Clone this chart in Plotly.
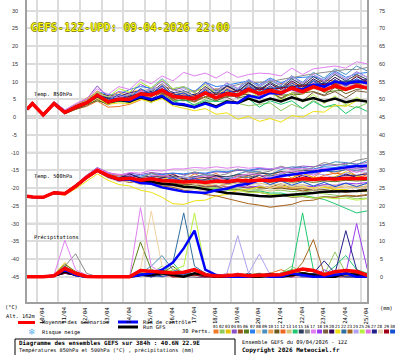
import plotly.graph_objects as go

# ---------------- data ----------------
lead_hours = [0] + list(range(6, 384, 12))          # GEFS lead times shown (h)
start_day = -0.45                                    # run start, in days after 10/04 00h
date_labels = ["10/04", "11/04", "12/04", "13/04", "14/04", "15/04", "16/04", "17/04",
               "18/04", "19/04", "20/04", "21/04", "22/04", "23/04", "24/04", "25/04"]
left_ticks = [30, 25, 20, 15, 10, 5, 0, -5, -10, -15, -20, -25, -30, -35, -40, -45]
right_ticks = [75, 70, 65, 60, 55, 50, 45, 40, 35, 30, 25, 20, 15, 10, 5, 0]
member_names = ["%02d" % i for i in range(1, 31)]
member_colors = ["#f07828", "#90c860", "#e8c000", "#8a4fc8", "#a0521c", "#5a7d1a", "#2a80f0",
                 "#f2d2a0", "#4a90c0", "#f0a050", "#6b5a1e", "#f06420", "#d4c47c", "#20c870",
                 "#2c3e5c", "#8a8a8a", "#e080f0", "#9a3cf0", "#7a5c3c", "#32005a", "#f0e010",
                 "#2e6ea0", "#a8641c", "#b0a0f0", "#b8f040", "#e070e0", "#22208a", "#e6d6b4",
                 "#a00018", "#1450d0"]

t850_mean = [2.2,3.8,0.6,3.8,1.3,2.8,4.0,6.2,4.3,5.0,5.0,6.6,6.2,7.6,5.8,5.6,5.2,6.8,5.4,6.6,6.2,7.8,6.6,7.5,6.8,8.2,7.2,8.6,7.6,8.8,7.8,8.8,8.2]
t850_ctrl = [2.2,3.8,0.6,3.8,1.3,2.8,4.0,6.0,4.4,5.0,4.6,5.8,5.0,6.0,3.8,3.6,2.8,3.8,2.8,4.2,4.0,6.0,5.4,6.8,6.6,8.2,7.8,9.2,8.6,10.0,9.4,10.0,9.6]
t850_gfs = [2.2,3.8,0.7,3.9,1.4,2.8,4.0,6.0,4.2,4.8,4.4,5.6,4.8,5.8,3.8,3.4,2.8,4.0,3.0,4.4,4.0,5.2,4.2,5.2,4.4,5.6,4.6,5.4,4.4,5.2,4.2,4.8,4.4]
t850_members = [
    [2.1,3.7,0.8,4.0,1.0,2.2,3.0,4.5,2.8,3.0,3.6,4.8,6.5,6.8,5.5,7.0,5.0,7.2,8.0,7.0,6.5,9.4,7.0,8.0,9.5,9.0,7.0,9.6,10.5,10.2,9.0,11.8,9.4],
    [2.3,3.9,0.5,3.6,1.2,2.6,3.8,5.6,3.8,5.2,4.0,5.5,4.0,6.4,4.6,3.2,3.6,5.0,2.8,4.6,3.8,3.2,3.6,4.0,1.8,3.6,2.4,4.8,2.8,3.2,3.4,2.6,4.0],
    [2.2,3.8,0.7,3.9,1.6,3.0,5.4,6.8,6.0,5.8,7.0,7.6,6.4,8.6,8.0,6.8,7.4,8.0,6.8,8.8,7.2,8.6,8.4,8.2,6.6,9.0,9.2,9.4,8.4,10.6,8.8,9.8,10.0],
    [2.3,4.0,0.9,4.4,2.0,3.6,5.0,8.8,5.6,7.2,6.6,9.2,7.8,10.2,7.6,8.4,7.0,9.8,7.4,9.6,8.0,10.6,8.8,10.6,9.0,11.6,9.4,12.0,10.0,12.6,10.6,12.8,11.2],
    [2.0,3.6,0.4,3.5,1.0,2.4,3.6,5.8,4.0,5.6,4.4,6.0,6.6,7.0,5.2,6.4,5.0,6.6,6.4,6.8,5.4,8.0,8.0,7.8,6.0,8.6,8.6,8.8,7.0,9.4,9.6,9.8,8.2],
    [2.2,3.9,0.6,3.7,1.4,2.6,3.6,4.6,3.8,5.4,4.6,5.2,5.6,7.8,4.8,4.6,5.0,5.6,4.4,6.8,5.4,6.0,6.0,7.8,6.2,6.4,6.4,8.8,7.0,7.4,7.6,9.6,8.0],
    [2.4,4.0,0.7,4.0,1.6,3.2,4.6,7.2,6.4,6.4,7.8,8.6,8.2,10.8,8.0,8.6,7.2,9.8,8.6,9.0,9.6,10.2,9.2,11.0,9.6,11.0,11.2,11.4,10.6,13.0,11.2,12.2,12.6],
    [2.1,3.7,0.5,3.6,1.1,2.8,4.2,6.4,4.6,6.4,5.6,7.4,7.8,8.2,6.4,7.0,5.4,7.0,6.8,7.2,6.4,8.6,6.2,7.0,7.0,7.4,6.4,9.0,7.2,8.6,8.8,9.0,8.4],
    [2.2,3.8,0.6,3.8,1.3,2.9,4.2,6.6,4.8,5.6,6.4,7.0,6.6,9.0,6.2,7.0,5.8,8.6,6.6,9.0,7.6,10.4,8.4,10.4,8.8,11.6,9.8,12.6,11.0,13.6,12.0,14.4,13.0],
    [2.3,3.9,0.8,4.1,1.7,3.4,4.8,7.4,5.4,7.0,5.8,8.0,6.4,7.4,6.4,5.2,5.8,6.4,5.0,7.2,5.6,7.0,6.8,6.8,6.0,8.6,6.6,8.0,8.0,8.2,7.4,9.4,7.8],
    [2.0,3.6,0.4,3.4,0.9,2.2,3.2,5.0,3.4,5.0,4.2,5.8,4.4,6.6,5.8,4.8,4.4,6.8,4.6,5.8,6.2,6.4,5.4,7.2,5.4,6.8,6.8,7.2,6.2,8.4,6.6,7.8,8.2],
    [2.2,3.8,0.6,3.9,1.4,3.0,4.2,6.4,5.6,5.4,5.2,7.8,6.4,7.8,7.0,5.8,6.4,7.2,5.8,8.2,6.8,8.4,8.2,8.2,7.4,9.8,7.8,9.2,9.2,9.6,8.6,10.6,9.0],
    [2.1,3.8,0.7,3.8,1.2,2.7,3.8,5.8,4.2,5.8,4.8,6.4,7.0,7.4,5.6,6.6,5.2,6.6,6.2,6.4,6.0,8.4,6.2,7.2,7.6,8.0,7.0,9.4,7.4,8.6,8.6,8.8,8.4],
    [2.3,3.9,0.5,3.7,1.2,2.6,3.6,5.6,3.8,4.4,4.2,5.6,5.0,6.2,4.2,5.0,3.4,4.6,4.4,4.6,4.0,5.2,2.8,4.6,3.6,4.6,2.4,4.4,2.8,3.6,1.0,3.0,1.6],
    [2.2,3.7,0.6,3.8,1.3,2.8,4.0,6.0,5.2,5.0,5.8,6.6,6.2,8.8,6.2,7.2,5.8,8.4,6.2,8.6,7.2,9.8,7.8,9.8,8.2,10.8,9.0,11.4,9.6,12.0,10.2,12.0,10.6],
    [2.2,3.8,0.7,3.9,1.4,2.9,4.2,6.4,5.6,5.4,6.6,7.2,8.0,8.6,7.8,6.8,7.4,8.0,7.8,8.4,9.0,9.8,9.8,10.0,10.6,11.2,11.6,12.2,12.6,13.0,13.4,13.4,14.0],
    [2.4,4.1,1.0,4.4,2.0,3.8,5.2,8.0,6.4,8.6,7.8,10.6,9.4,11.6,10.2,12.6,11.6,12.4,11.0,12.8,11.2,12.0,12.4,12.2,11.6,13.8,12.0,13.6,14.0,14.4,13.8,15.6,15.0],
    [2.1,3.7,0.5,3.6,1.1,2.6,3.8,5.8,4.0,5.6,4.6,6.2,6.8,7.2,5.4,6.2,4.8,6.4,6.0,6.2,5.6,8.0,6.0,6.8,7.2,7.6,6.8,9.2,7.4,8.8,9.0,9.0,8.6],
    [2.2,3.8,0.6,3.8,1.3,2.8,4.0,6.0,4.2,5.8,4.8,6.4,5.0,7.2,5.4,6.0,4.4,5.8,5.4,5.6,4.0,6.4,5.2,7.0,5.2,6.6,4.6,7.0,6.0,7.2,5.4,7.4,7.0],
    [2.3,3.9,0.8,4.0,1.6,3.2,4.4,6.8,6.0,5.8,6.8,7.4,7.0,9.4,6.6,7.4,6.0,8.6,6.4,8.8,7.2,9.6,7.6,9.4,7.8,10.2,8.4,10.8,9.0,11.2,9.4,11.4,10.0],
    [2.2,3.8,0.5,3.7,1.2,2.6,3.6,5.4,3.6,4.0,3.8,5.0,4.2,5.2,3.2,2.6,1.8,2.4,0.8,1.2,-0.6,0.2,-1.2,-0.4,-1.4,0.4,0.0,1.6,1.4,3.4,3.0,4.6,4.4],
    [2.1,3.7,0.6,3.8,1.3,2.8,4.0,6.2,4.4,6.2,5.2,6.8,7.6,8.0,6.4,7.4,6.0,7.6,7.4,7.6,7.0,9.4,7.4,8.2,8.6,9.0,8.0,10.4,8.6,10.0,10.2,10.4,9.8],
    [2.2,3.8,0.7,3.9,1.2,2.7,3.8,5.8,3.8,5.4,4.2,5.6,6.2,6.6,4.8,5.6,4.2,5.8,5.6,6.0,5.8,7.2,7.2,7.2,6.6,8.0,8.0,8.2,7.2,9.6,7.6,8.4,8.8],
    [2.3,3.9,0.7,4.0,1.5,3.0,4.4,6.6,5.8,5.6,6.6,7.2,7.8,8.4,6.8,8.0,6.8,9.4,7.0,9.6,8.2,10.6,8.6,10.6,9.0,11.4,9.6,12.0,10.4,12.4,10.8,12.6,11.2],
    [2.2,3.8,0.6,3.8,1.4,3.0,4.4,7.0,5.6,8.0,7.0,9.8,8.2,10.6,8.0,8.6,6.8,9.2,6.6,7.8,5.8,8.0,5.4,7.2,4.8,6.8,4.2,6.4,3.8,6.0,3.4,5.6,4.0],
    [2.1,3.7,0.5,3.7,1.3,2.8,4.0,6.2,4.4,6.2,5.0,7.6,6.2,8.6,5.8,6.8,5.4,8.0,5.6,8.0,6.4,8.8,6.8,8.8,7.2,9.6,7.6,10.0,8.0,10.4,8.4,10.6,9.0],
    [2.2,3.8,0.6,3.9,1.3,2.9,4.0,6.2,5.4,5.0,6.0,6.6,7.4,7.8,7.0,5.8,6.4,7.0,6.8,7.0,7.6,8.2,8.2,8.0,8.2,8.8,9.0,9.2,9.4,9.8,10.0,10.2,10.6],
    [2.3,3.9,0.7,4.0,1.5,3.0,4.2,6.4,4.6,6.4,5.4,8.0,6.8,9.2,6.4,7.2,5.8,8.4,6.0,8.4,6.8,9.2,7.0,8.8,7.0,9.4,7.4,9.6,7.8,10.0,8.2,10.2,8.6],
    [2.1,3.7,0.5,3.6,1.1,2.5,3.6,5.6,4.8,4.6,5.8,6.4,7.0,7.4,6.6,5.4,6.0,6.6,6.4,6.8,7.4,7.8,7.8,7.8,8.2,8.6,8.8,9.0,9.2,9.4,9.6,9.6,10.2],
    [2.2,3.8,0.7,3.8,1.4,2.9,4.2,6.4,4.6,6.4,5.4,8.0,6.6,8.8,6.0,6.8,5.2,7.8,5.4,7.8,6.4,9.0,6.8,8.8,7.0,9.6,7.6,10.2,8.2,10.6,8.8,10.8,9.4],
]

t500_mean = [-22.3,-22.5,-22.6,-21.3,-21.6,-19.5,-17.0,-15.0,-16.5,-17.5,-17.2,-17.8,-17.4,-17.9,-18.0,-18.3,-18.1,-18.4,-18.0,-18.2,-17.8,-18.0,-17.7,-17.9,-17.6,-17.8,-17.4,-17.6,-17.3,-17.5,-17.2,-17.4,-17.2]
t500_ctrl = [-22.3,-22.5,-22.6,-21.3,-21.6,-19.5,-17.0,-15.0,-16.6,-17.6,-17.6,-18.6,-18.8,-19.8,-20.4,-21.0,-21.2,-21.4,-20.6,-20.2,-19.2,-18.8,-17.8,-17.4,-16.6,-16.2,-15.6,-15.2,-14.8,-14.4,-14.0,-13.8,-13.8]
t500_gfs = [-22.3,-22.5,-22.6,-21.3,-21.6,-19.5,-17.0,-15.0,-16.6,-17.6,-17.4,-18.2,-18.2,-18.8,-19.0,-19.6,-19.8,-20.4,-20.8,-21.4,-21.6,-22.0,-22.2,-22.4,-22.2,-22.0,-21.6,-21.4,-21.0,-21.0,-20.8,-20.8,-20.6]
t500_members = [
    [-22.2,-22.4,-22.4,-21.0,-21.2,-19.0,-16.6,-14.6,-16.0,-17.8,-16.6,-17.8,-15.6,-16.8,-15.8,-17.8,-16.0,-17.2,-15.8,-17.8,-16.4,-17.6,-15.4,-16.6,-15.2,-17.2,-15.8,-17.0,-14.8,-16.0,-14.6,-16.6,-15.6],
    [-22.3,-22.5,-22.7,-21.5,-21.8,-19.8,-17.4,-15.4,-17.0,-18.0,-18.0,-18.8,-18.6,-19.2,-19.4,-19.8,-19.8,-20.2,-20.0,-20.4,-20.2,-20.6,-20.4,-20.8,-20.6,-21.0,-20.8,-21.2,-21.4,-22.0,-22.4,-23.0,-22.8],
    [-22.4,-22.6,-22.6,-21.2,-21.4,-19.2,-16.8,-14.8,-17.0,-17.2,-17.6,-17.4,-17.8,-17.6,-16.6,-17.8,-18.4,-18.0,-16.6,-17.8,-18.0,-17.6,-16.2,-17.4,-17.6,-17.2,-15.8,-17.0,-17.2,-16.8,-15.4,-16.6,-17.2],
    [-22.2,-22.4,-22.5,-21.1,-21.3,-19.1,-16.4,-14.2,-15.6,-16.4,-15.8,-16.2,-15.6,-16.0,-15.8,-16.2,-15.8,-16.0,-15.4,-15.6,-15.0,-15.2,-14.6,-14.8,-14.2,-14.4,-13.8,-14.0,-13.4,-13.6,-13.0,-13.2,-12.8],
    [-22.3,-22.5,-22.6,-21.4,-21.7,-19.6,-17.2,-15.2,-16.0,-17.8,-18.4,-18.2,-17.0,-18.4,-19.2,-18.8,-17.8,-19.0,-19.4,-19.0,-18.0,-19.4,-20.0,-19.8,-18.8,-20.2,-20.8,-20.4,-19.4,-20.6,-21.2,-20.8,-19.8],
    [-22.3,-22.5,-22.6,-21.3,-21.5,-19.4,-16.9,-15.0,-16.4,-17.4,-17.0,-17.6,-17.2,-17.8,-17.8,-18.2,-18.0,-18.4,-18.0,-18.4,-18.0,-18.4,-18.0,-18.4,-18.0,-18.4,-18.0,-18.4,-18.0,-18.2,-17.8,-18.0,-17.8],
    [-22.2,-22.4,-22.5,-21.2,-21.4,-19.2,-16.6,-14.6,-15.8,-16.6,-16.2,-16.6,-16.0,-16.2,-15.8,-16.0,-15.6,-15.8,-15.2,-15.4,-14.8,-15.0,-14.4,-14.6,-14.2,-14.6,-14.2,-14.6,-14.0,-14.2,-13.6,-13.8,-13.4],
    [-22.4,-22.6,-22.7,-21.5,-21.8,-19.8,-17.4,-15.4,-17.2,-18.2,-18.0,-18.8,-18.6,-19.4,-19.6,-20.2,-20.4,-21.0,-20.8,-21.2,-20.8,-21.2,-20.6,-20.8,-20.2,-20.4,-19.8,-20.0,-19.4,-19.6,-19.0,-19.2,-19.0],
    [-22.3,-22.5,-22.6,-21.3,-21.6,-19.5,-17.0,-15.0,-16.4,-18.2,-17.0,-18.2,-16.8,-16.4,-17.0,-18.0,-16.8,-16.2,-16.4,-17.4,-16.0,-15.2,-15.4,-16.2,-14.8,-14.0,-14.2,-15.0,-13.6,-12.6,-12.8,-13.4,-12.2],
    [-22.3,-22.4,-22.5,-21.2,-21.5,-19.4,-16.8,-14.8,-16.4,-17.4,-17.2,-17.8,-17.6,-18.2,-18.4,-18.8,-18.8,-19.4,-19.2,-19.6,-19.4,-19.8,-19.6,-20.0,-19.8,-20.2,-20.0,-20.2,-19.8,-20.0,-19.6,-19.8,-19.4],
    [-22.4,-22.6,-22.7,-21.4,-21.7,-19.7,-17.2,-15.2,-16.8,-17.8,-17.6,-18.4,-18.2,-18.8,-19.0,-19.4,-19.4,-19.8,-19.4,-19.8,-19.6,-20.0,-19.8,-20.2,-20.0,-20.4,-20.2,-20.6,-20.4,-20.8,-20.6,-21.0,-20.8],
    [-22.2,-22.4,-22.5,-21.1,-21.4,-19.3,-16.8,-14.8,-16.2,-16.4,-16.8,-18.2,-17.0,-16.6,-17.2,-18.4,-17.4,-17.0,-17.4,-18.4,-17.2,-16.6,-17.0,-18.0,-16.8,-16.2,-16.6,-17.6,-16.4,-15.8,-16.2,-17.2,-16.2],
    [-22.3,-22.5,-22.6,-21.3,-21.6,-19.5,-17.0,-15.0,-16.6,-17.6,-17.4,-18.0,-17.8,-18.4,-18.4,-18.8,-18.6,-19.0,-18.6,-19.0,-18.6,-19.0,-18.6,-19.2,-18.8,-19.4,-19.0,-19.6,-19.2,-19.8,-19.4,-19.8,-19.6],
    [-22.3,-22.5,-22.6,-21.4,-21.7,-19.6,-17.2,-15.2,-16.8,-17.8,-17.8,-18.6,-18.4,-19.0,-19.2,-19.6,-19.6,-20.2,-20.0,-20.6,-20.4,-21.0,-20.8,-21.4,-21.4,-22.0,-22.0,-22.6,-23.2,-24.4,-25.6,-27.0,-26.4],
    [-22.2,-22.4,-22.6,-21.2,-21.5,-19.4,-16.9,-14.9,-16.2,-17.0,-16.6,-17.0,-16.6,-17.0,-16.8,-17.2,-16.8,-17.0,-16.6,-16.8,-16.2,-16.4,-15.8,-16.0,-15.4,-15.6,-15.0,-15.2,-14.6,-14.8,-14.2,-14.4,-14.0],
    [-22.3,-22.5,-22.6,-21.3,-21.6,-19.5,-17.0,-15.0,-16.4,-17.2,-17.6,-17.2,-15.8,-16.8,-17.2,-16.6,-15.4,-16.4,-16.6,-16.0,-14.6,-15.6,-15.8,-15.2,-13.8,-14.8,-15.0,-14.2,-12.8,-13.4,-13.4,-12.2,-11.6],
    [-22.4,-22.6,-22.6,-21.2,-21.4,-19.2,-16.6,-14.4,-15.6,-16.4,-15.6,-15.8,-15.0,-15.2,-14.6,-14.6,-14.2,-14.4,-14.0,-14.4,-14.0,-14.4,-14.2,-14.6,-14.2,-14.6,-14.4,-14.8,-14.4,-14.8,-14.4,-14.6,-14.2],
    [-22.3,-22.5,-22.7,-21.5,-21.8,-19.8,-17.4,-15.4,-17.0,-18.0,-17.8,-18.6,-18.4,-19.0,-19.2,-19.6,-19.4,-19.8,-19.4,-19.8,-19.4,-19.8,-19.4,-19.8,-19.4,-19.8,-19.4,-19.6,-19.0,-19.2,-18.6,-18.8,-18.4],
    [-22.2,-22.5,-22.6,-21.3,-21.6,-19.5,-17.0,-15.0,-16.6,-17.6,-17.4,-18.0,-17.8,-18.4,-18.6,-19.0,-19.0,-19.6,-19.6,-20.2,-20.4,-21.0,-21.2,-21.8,-22.0,-22.6,-22.4,-22.8,-22.4,-22.6,-22.2,-22.4,-22.0],
    [-22.3,-22.5,-22.5,-21.2,-21.5,-19.4,-16.8,-14.8,-17.0,-17.2,-16.0,-17.2,-17.6,-17.2,-16.2,-17.4,-18.0,-17.6,-16.4,-17.6,-18.0,-17.6,-16.4,-17.6,-18.0,-17.6,-16.4,-17.4,-17.8,-17.2,-16.0,-17.0,-17.6],
    [-22.3,-22.5,-22.7,-21.6,-22.0,-20.2,-18.0,-16.0,-17.8,-19.0,-19.4,-20.6,-21.2,-22.6,-24.4,-24.6,-23.6,-23.4,-22.2,-21.8,-20.6,-20.4,-19.6,-19.8,-19.4,-19.8,-19.6,-20.0,-19.8,-20.4,-20.4,-21.0,-21.0],
    [-22.2,-22.4,-22.5,-21.2,-21.5,-19.4,-16.9,-14.9,-16.4,-17.4,-17.0,-17.6,-17.2,-17.8,-17.6,-18.0,-17.6,-17.8,-17.2,-17.4,-16.8,-17.0,-16.4,-16.6,-16.0,-16.2,-15.6,-15.8,-15.2,-15.4,-14.8,-15.0,-14.6],
    [-22.3,-22.5,-22.6,-21.4,-21.7,-19.6,-17.2,-15.2,-16.8,-17.8,-17.8,-18.6,-18.6,-19.4,-19.8,-20.6,-21.0,-21.8,-22.2,-23.0,-23.6,-24.4,-24.8,-25.4,-25.0,-24.6,-23.6,-23.4,-22.6,-22.6,-22.0,-22.2,-21.8],
    [-22.4,-22.6,-22.6,-21.3,-21.6,-19.5,-17.0,-15.0,-16.4,-18.0,-16.8,-18.2,-17.0,-18.4,-17.4,-16.8,-17.4,-18.6,-17.4,-17.0,-17.4,-18.6,-17.4,-16.8,-17.0,-18.0,-16.6,-16.0,-16.2,-17.2,-15.8,-15.2,-15.6],
    [-22.3,-22.5,-22.6,-21.3,-21.6,-19.6,-17.1,-15.1,-16.6,-17.6,-17.4,-18.2,-18.0,-18.8,-18.8,-19.4,-19.4,-20.0,-20.0,-20.6,-20.6,-21.2,-21.2,-21.8,-21.8,-22.4,-22.2,-22.8,-22.6,-23.0,-22.8,-23.4,-23.0],
    [-22.2,-22.4,-22.5,-21.1,-21.3,-19.1,-16.5,-14.5,-15.8,-16.0,-16.4,-17.8,-16.6,-16.4,-17.0,-18.2,-17.0,-16.6,-17.0,-18.0,-16.6,-16.0,-16.2,-17.2,-15.8,-15.2,-15.4,-16.4,-15.0,-14.4,-14.6,-15.6,-14.6],
    [-22.3,-22.5,-22.6,-21.3,-21.6,-19.5,-17.0,-15.0,-16.6,-17.6,-17.2,-17.8,-17.4,-18.0,-18.0,-18.4,-18.2,-18.6,-18.2,-18.6,-18.2,-18.4,-17.8,-18.0,-17.6,-17.8,-17.4,-17.6,-17.0,-17.0,-16.4,-16.4,-16.0],
    [-22.4,-22.6,-22.7,-21.5,-21.8,-19.8,-17.4,-15.4,-17.0,-17.2,-17.8,-19.2,-18.2,-18.0,-18.8,-20.0,-19.0,-18.6,-19.0,-20.2,-19.0,-18.6,-19.0,-20.2,-19.0,-18.6,-19.2,-20.4,-19.4,-19.0,-19.6,-20.8,-19.8],
    [-22.3,-22.5,-22.6,-21.3,-21.6,-19.5,-17.0,-15.0,-16.4,-17.4,-17.0,-17.6,-17.2,-17.8,-17.8,-18.2,-18.0,-18.4,-18.0,-18.4,-18.0,-18.2,-17.8,-18.0,-17.6,-17.8,-17.4,-17.6,-17.2,-17.4,-17.0,-17.2,-17.0],
    [-22.2,-22.4,-22.5,-21.2,-21.5,-19.4,-16.8,-14.8,-16.2,-17.8,-16.6,-18.0,-16.8,-18.0,-17.0,-18.2,-17.2,-18.4,-17.4,-18.6,-17.6,-18.8,-17.8,-19.0,-18.0,-19.2,-18.2,-19.4,-18.4,-19.6,-18.6,-19.6,-18.6],
]

precip_mean = [0,0,0,0.3,2.4,1.0,0.1,0,0,0,0,1.8,1.6,1.2,1.1,1.3,2.0,0.6,0.2,0.3,0.6,0.3,0.5,0.5,0.6,1.5,2.2,1.8,0.6,1.4,1.8,1.5,0.4]
precip_ctrl = [0,0,0,0.3,2,0.5,0,0,0,0,0,0.5,1,2,4,8,13,2,0.5,0,0,0,0.5,0,0,1,0.5,0,0,0.5,1,0,0]
precip_gfs = [0,0,0,0.3,1.5,0.5,0,0,0,0,0,0.5,0.5,1,0.5,0,1,0.5,0,0,0,0,0,0.5,0,0.5,1,0.5,0,0,1,0.5,0]
precip_members = [
    [0,0,0,0.5,3,1,0,0,0,0,0,1,2,1,0,0.5,1,0,0,1,0,0,0.5,1,2,1,0,0.5,1,0,0.5,1,0],
    [0,0,0,0.3,2,0.5,0,0,0,0,0,0.5,1,3,0.5,0,1,0,0,0,0.5,0,0,0.5,1,3,1,0,0.5,7,1,0,0.5],
    [0,0,0,0.5,4,1,0,0,0,0,0,1,0.5,2,1,0,0.5,0,0,0,0,0.5,0,0,1,2,0.5,0,0,1,2,0.5,0],
    [0,0,0,0.2,1.5,0.5,0,0,0,0,0,0.5,1,0.5,2,1,0,0,0.5,0,0,0,0.5,0,0,1,0.5,0,1,0.5,0,1,0],
    [0,0,0,0.3,2.5,1,0.2,0,0,0,0,2,1,0.5,1,0,0.5,0,0,0,1,0.5,0,0,0,2,1,0,0.5,0,0,0.5,1],
    [0,0,0,0.4,3.5,1.5,0.3,0,0,0,0,9.8,2,1,0.5,1,0,0,0,0.5,0,0,0,1,0,0.5,0,1,0,0,0.5,0,0],
    [0,0,0,0.2,1,0.5,0,0,0,0,0,0.5,0,1,0.5,0,2,1,0,0,0,0,0.5,0,1,0,0,0.5,0,1,0.5,0,0],
    [0,0,0,0.3,2,0.5,0,0,0,0,0,2,18.5,3,1,0,0.5,0,0,0.5,0,0,1,0,0.5,1,0,0,0,0.5,0,1,0],
    [0,0,0,0.2,1.5,0.5,0,0,0,0,0,1,3,6,2,1,0,0.5,0,0,0,0.5,0,0,1,0,0.5,0,0,1,0,0,0.5],
    [0,0,0,0.4,3,1,0.2,0,0,0,0,1.5,1,0.5,0,1,0.5,0,0,0,0.5,0,0,0.5,0,1,0,0,0.5,0,1,0,0],
    [0,0,0,0.3,2,0.5,0,0,0,0,0,1,0.5,1,3,0.5,0,0,0,0,0,0,0,1,0.5,0,1,2,0,0,0,0.5,0],
    [0,0,0,0.3,2.5,1,0,0,0,0,0,0.5,1,0.5,0,0,1,0.5,0,0,0,0.5,0,0,0.5,1.5,0,0,0.5,0,0,0,0.5],
    [0,0,0,0.2,1.5,0.5,0,0,0,0,0,1,2,0.5,1,0,0,0,0.5,0,0,0,1,0.5,0,0,0.5,0,0,1,0.5,0,0],
    [0,0,0,0.3,2,1,0,0,0,0,0,1,2,1,4,0.5,1,0,0,0,0.5,0,0,0,1,2,18,2,0.5,3,6,2,1],
    [0,0,0,0.2,1,0.5,0,0,0,0,0,0.5,1,2,0.5,1,0.5,0,0,0,0,1,0,0,0.5,0,0,1,0.5,0,0,1,0.5],
    [0,0,0,0.3,3,6.5,1,0,0,0,0,0.5,1,0.5,0,0,0.5,0,0,0,0,0,0.5,0,0,0.5,1,0,0,0.5,0,0,0],
    [0,0,0,0.5,10.3,2,0.5,0,0,0,0,19.5,3,1,0.5,0,1,0,0,0.5,0,0,0,0.5,1,0,0,0.5,0,0,1,0,0],
    [0,0,0,0.2,1.5,0.5,0,0,0,0,0,0.5,1,0,0.5,0,0,0.5,0,0,1,0,0,0,0.5,1,0,0,2,0.5,1,15,2],
    [0,0,0,0.3,2,1,0,0,0,0,0,1,0.5,1,0,0.5,0,0,0,0,0,0.5,1,0,0,0.5,1,0,0,0,0.5,0,1],
    [0,0,0,0.2,1,0.5,0,0,0,0,0,0.5,0,1,0.5,0,1,0,0,0.5,0,0,0,0.5,0,0,0.5,0,0,1,0,0.5,0],
    [0,0,0,0.3,2.5,0.5,0,0,0,0,0,1,0.5,0,1,0,0,0.5,0,0,0,0,0,0,0,0.5,1,0,0.5,1,0,2,0.5],
    [0,0,0,0.4,3,1,0,0,0,0,0,1,0.5,2,4,18,3,1,0,0,0.5,0,0,0,0.5,0,1,0,0,0.5,0,0,0],
    [0,0,0,0.3,2,0.5,0,0,0,0,0,0.5,1,0.5,0,0,0.5,0,0,0,0,0,0,0.5,1,0.5,4,10.5,1,0,0.5,0,0],
    [0,0,0,0.2,1.5,0.5,0,0,0,0,0,0.5,0,1,0.5,0,0,0.5,0,1,11.6,1,6.4,0.5,0,0,0.5,0,0,0.5,0,0,0],
    [0,0,0,0.3,2,1,0,0,0,0,0,1,0.5,1,2,3,18,2,0.5,0,0,0,0.5,0,0,1,0,0.5,0,0,1,0,0],
    [0,0,0,0.3,2,0.5,0,0,0,0,0,2,1,0.5,0,0.5,0,0,0,0,0,0.5,0,0,1,0,0,0,0.5,0,0,0.5,0],
    [0,0,0,0.2,1,0.5,0,0,0,0,0,0.5,0,0.5,1,0,0,0,0.5,0,0,0,0.5,1,0,0.5,0,1,4.5,1,13,2,0.5],
    [0,0,0,0.3,1.5,0.5,0,0,0,0,0,1,2,0.5,0,0,0,0.5,0,0,0,0,0.5,0,1,0,0,0.5,0,0,0,0.5,0],
    [0,0,0,0.2,1,0.5,0,0,0,0,0,0.5,0.5,1,0,0,0.5,0,0,0,0,0,0,0,0.5,0,1,0,0,0.5,0,0,0],
    [0,0,0,0.3,2,0.5,0,0,0,0,0,1,0.5,0,1,0.5,2,0.5,0,0,0,0.5,0,0,0,1,0,0,0.5,1,0,0,0.5],
]

# ---------------- figure ----------------
days = [start_day + h / 24.0 for h in lead_hours]

W, H = 395, 355
PL, PR, PT, PB = 27, 367, 0, 302          # plot area in pixels


def px(x):
    return (x - PL) / (PR - PL)


def py(y):
    return (PB - y) / (PB - PT)


fig = go.Figure()

for i, c in enumerate(member_colors):
    fig.add_trace(go.Scatter(x=days, y=t850_members[i], mode="lines",
                             line=dict(color=c, width=1), hoverinfo="skip", showlegend=False))
    fig.add_trace(go.Scatter(x=days, y=t500_members[i], mode="lines",
                             line=dict(color=c, width=1), hoverinfo="skip", showlegend=False))
    fig.add_trace(go.Scatter(x=days, y=precip_members[i], mode="lines", yaxis="y2",
                             line=dict(color=c, width=1), hoverinfo="skip", showlegend=False))

for series, ax in [(t850_gfs, "y"), (t500_gfs, "y"), (precip_gfs, "y2")]:
    fig.add_trace(go.Scatter(x=days, y=series, mode="lines", yaxis=ax,
                             line=dict(color="#000000", width=2.5), hoverinfo="skip", showlegend=False))
for series, ax in [(t850_ctrl, "y"), (t500_ctrl, "y"), (precip_ctrl, "y2")]:
    fig.add_trace(go.Scatter(x=days, y=series, mode="lines", yaxis=ax,
                             line=dict(color="#0000ff", width=2.5), hoverinfo="skip", showlegend=False))
for series, ax in [(t850_mean, "y"), (t500_mean, "y"), (precip_mean, "y2")]:
    fig.add_trace(go.Scatter(x=days, y=series, mode="lines", yaxis=ax,
                             line=dict(color="#ff0000", width=3.5), hoverinfo="skip", showlegend=False))

y_lo, y_hi = -52.1, 33.0
shapes = []
for v, w, col in [(15, 1.5, "#b8b8b8"), (-10, 1.5, "#c0c0c0"), (-30, 1.5, "#b8b8b8"), (0, 3, "#a8a8a8")]:
    shapes.append(dict(type="line", xref="paper", yref="y", x0=0, x1=1, y0=v, y1=v,
                       line=dict(color=col, width=w), layer="between"))

MONO = "DejaVu Sans Mono"
SANS = "Liberation Sans"
ann = []
for v in left_ticks:
    ann.append(dict(text=str(v), xref="paper", yref="y", x=px(14.5), y=v, showarrow=False,
                    xanchor="center", yanchor="middle", font=dict(family=SANS, size=5.5, color="#333")))
for v in right_ticks:
    ann.append(dict(text=str(v), xref="paper", yref="y2", x=px(381.5), y=v, showarrow=False,
                    xanchor="center", yanchor="middle", font=dict(family=SANS, size=5.5, color="#333")))
for k, lab in enumerate(date_labels):
    ann.append(dict(text=lab, xref="x", yref="paper", x=k + 0.23, y=0, yshift=-3, showarrow=False,
                    textangle=-90, xanchor="center", yanchor="top",
                    font=dict(family=MONO, size=5.6, color="#000")))


def txt(s, x, y, size=5.3, bold=False, anchor="left", color="#000", family=MONO):
    ann.append(dict(text=("<b>%s</b>" % s) if bold else s, xref="paper", yref="paper",
                    x=px(x), y=py(y), showarrow=False, xanchor=anchor, yanchor="middle",
                    font=dict(family=family, size=size, color=color)))


ann.append(dict(text="GEFS-12Z-UPD: 09-04-2026 22:00", xref="paper", yref="paper",
                x=px(29), y=py(27), showarrow=False, xanchor="left", yanchor="middle",
                font=dict(family=MONO, size=11, color="#ffff00",
                          shadow="0.7px 0 0 #8a8a20, -0.7px 0 0 #8a8a20, 0 0.7px 0 #8a8a20, 0 -0.7px 0 #8a8a20")))

txt("Temp. 850hPa", 31.5, 94.5)
txt("Temp. 500hPa", 31.5, 176)
txt("Précipitations", 31.5, 237)
txt("(°C)", 11.5, 306.5, anchor="center")
txt("(mm)", 386, 307.5, anchor="center")
txt("Alt. 162m", 4, 316)
txt("Moyenne des scénarios", 39.5, 322.5)
txt("Run de contrôle", 141, 321.5)
txt("Run GFS", 141, 326.5)
txt("Risque neige", 39.5, 332.5)
txt("30 Perts.", 180, 331)
txt("❄", 32, 332, size=9, anchor="center", color="#5aaeea", family="DejaVu Sans")
txt("Diagramme des ensembles GEFS sur 384h : 40.6N 22.9E", 17, 343.5, size=5.9, bold=True)
txt("Températures 850hPa et 500hPa (°C) , précipitations (mm)", 17, 350.5, size=5.2)
txt("Ensemble GEFS du 09/04/2026 - 12Z", 240, 341.5, size=5.3)
txt("Copyright 2026 Meteociel.fr", 240, 350.5, size=6.0, bold=True)

for (x0, x1, y, col) in [(18, 35, 322.5, "#ff0000"), (118, 138, 322, "#0000ff"), (118, 138, 327, "#000000")]:
    shapes.append(dict(type="line", xref="paper", yref="paper", x0=px(x0), x1=px(x1), y0=py(y), y1=py(y),
                       line=dict(color=col, width=3)))
shapes.append(dict(type="rect", xref="paper", yref="paper", x0=px(15), x1=px(235), y0=py(339), y1=py(358),
                   line=dict(color="#000", width=1), fillcolor="white"))
for k, (name, col) in enumerate(zip(member_names, member_colors)):
    xs = 213.5 + 6.09 * k
    shapes.append(dict(type="rect", xref="paper", yref="paper", x0=px(xs), x1=px(xs + 5),
                       y0=py(333.5), y1=py(329.5), line=dict(width=0), fillcolor=col))
    txt(name, xs + 2.5, 326, size=4.3, anchor="center")

fig.update_layout(
    width=W, height=H,
    margin=dict(l=PL, r=W - PR, t=PT, b=H - PB, pad=0),
    paper_bgcolor="white", plot_bgcolor="white",
    xaxis=dict(range=[start_day, 15.28], tickvals=list(range(0, 16)), showticklabels=False,
               ticks="", showgrid=True, gridcolor="#dcdcdc", gridwidth=2, zeroline=False,
               showline=True, linecolor="#a0a0a0", linewidth=2),
    yaxis=dict(range=[y_lo, y_hi], tickvals=left_ticks, showticklabels=False, ticks="",
               showgrid=True, gridcolor="#dcdcdc", gridwidth=1.5, zeroline=False,
               showline=True, linecolor="#a0a0a0", linewidth=2),
    yaxis2=dict(range=[y_lo + 45, y_hi + 45], overlaying="y", side="right", showgrid=False,
                showticklabels=False, ticks="", zeroline=False,
                showline=True, linecolor="#a0a0a0", linewidth=2),
    shapes=shapes, annotations=ann, showlegend=False,
)

fig.write_html("out.html")
